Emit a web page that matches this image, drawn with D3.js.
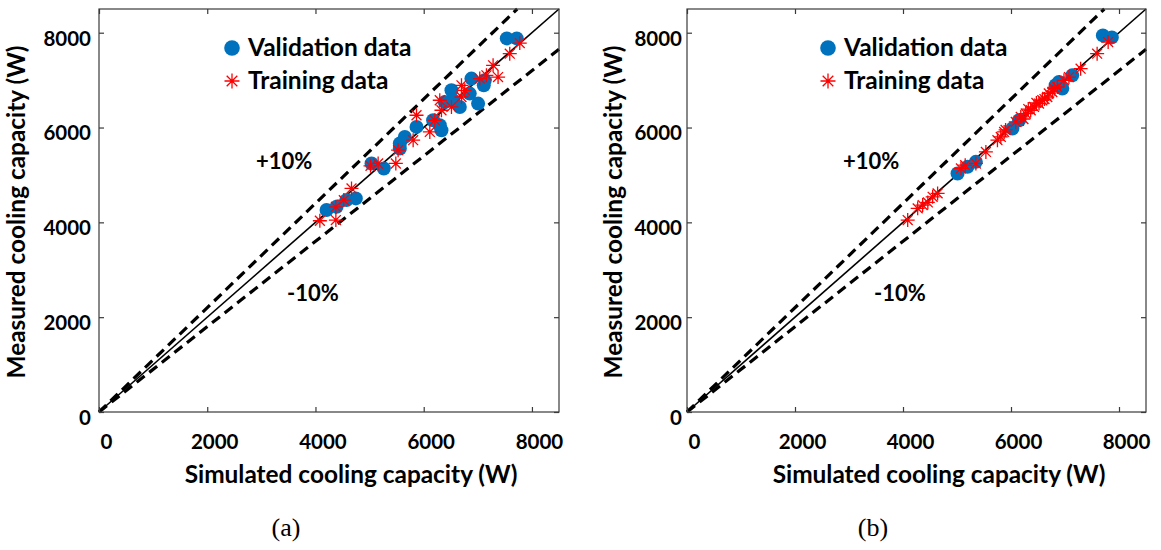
<!DOCTYPE html>
<html>
<head>
<meta charset="utf-8">
<script src="https://cdn.jsdelivr.net/npm/d3@7"></script>
<style>
  html, body { margin: 0; padding: 0; background: #fff; }
  svg { display: block; }
  text { font-family: Lato, "Open Sans", sans-serif; font-weight: bold; fill: #000; }
  .caption { font-family: "Liberation Serif", "DejaVu Serif", serif; font-weight: normal; }
</style>
</head>
<body>
<script>
// Axis setup shared by both panels
const axisDomain = [0, 8500];
const tickValues = [0, 2000, 4000, 6000, 8000];
const xTitle = "Simulated cooling capacity (W)";
const yTitle = "Measured cooling capacity (W)";
const seriesNames = ["Validation data", "Training data"];
const bandLabels = ["+10%", "-10%"];
const bandFactors = [1.1, 0.9];
const captions = ["(a)", "(b)"];

// Panel (a): validation points
const valA_sim  = [4205, 4390, 4574, 4746, 5036, 5263, 5559, 5559, 5651, 5867, 6174, 6297, 6328, 6390, 6513, 6544, 6667, 6851, 6882, 7005, 7128, 7110, 7535, 7719];
const valA_meas = [4259, 4328, 4469, 4505, 5242, 5137, 5558, 5663, 5802, 6013, 6154, 6048, 5943, 6539, 6785, 6575, 6434, 6716, 7032, 6505, 6996, 6890, 7880, 7880];
// Panel (a): training points
const trnA_sim  = [4081, 4377, 4377, 4524, 4666, 5017, 5158, 5485, 5527, 5805, 5867, 6113, 6205, 6297, 6328, 6513, 6698, 6698, 6759, 7036, 7159, 7282, 7374, 7590, 7775];
const trnA_meas = [4034, 4048, 4328, 4469, 4716, 5192, 5242, 5242, 5522, 5733, 6259, 5908, 6154, 6575, 6364, 6434, 6891, 6644, 6785, 7032, 7101, 7312, 7065, 7558, 7781];

// Panel (b): validation points
const valB_sim  = [5010, 5195, 5349, 6026, 6150, 6827, 6950, 6888, 7134, 7701, 7867];
const valB_meas = [5031, 5171, 5276, 5979, 6154, 6891, 6821, 6960, 7101, 7943, 7901];
// Panel (b): training points
const trnB_sim  = [4087, 4272, 4364, 4460, 4549, 4641, 5073, 5152, 5350, 5535, 5749, 5811, 5873, 5900, 6089, 6181, 6230, 6273, 6320, 6365, 6427, 6470, 6519, 6580, 6620, 6672, 6700, 6765, 6800, 6857, 6981, 7073, 7289, 7595, 7799];
const trnB_meas = [4048, 4295, 4364, 4420, 4539, 4611, 5137, 5206, 5242, 5486, 5733, 5802, 5907, 5950, 6118, 6223, 6180, 6295, 6390, 6364, 6434, 6520, 6505, 6575, 6600, 6644, 6720, 6750, 6820, 6855, 6996, 7065, 7242, 7558, 7802];

const W = 1161, H = 550;
const svg = d3.select("body").append("svg").attr("width", W).attr("height", H);

const BLUE = "#0072BD", RED = "#FF0000", AXIS = "#3a3a3a";
const fmt = d3.format("d");

function starPath(r) {
  // eight-armed asterisk centred on the origin
  let d = "";
  for (let k = 0; k < 4; k++) {
    const a = k * Math.PI / 4;
    const dx = r * Math.cos(a), dy = r * Math.sin(a);
    d += `M${-dx},${-dy}L${dx},${dy}`;
  }
  return d;
}

function drawPanel(p) {
  const g = svg.append("g");
  const x = d3.scaleLinear().domain(axisDomain).range([p.left, p.right]);
  const y = d3.scaleLinear().domain(axisDomain).range([p.bottom, p.top]);

  // reference lines: 1:1 and ±10 %
  const lines = g.append("g");
  lines.append("line")
    .attr("x1", x(0)).attr("y1", y(0)).attr("x2", x(8500)).attr("y2", y(8500))
    .attr("stroke", "#000").attr("stroke-width", 1.6);
  bandFactors.forEach(f => {
    const xe = Math.min(8500, 8500 / f);
    lines.append("line")
      .attr("x1", x(0)).attr("y1", y(0)).attr("x2", x(xe)).attr("y2", y(xe * f))
      .attr("stroke", "#000").attr("stroke-width", 3.2)
      .attr("stroke-dasharray", "10,6");
  });

  // data markers
  g.append("g").selectAll("circle").data(d3.range(p.vs.length)).join("circle")
    .attr("cx", i => x(p.vs[i])).attr("cy", i => y(p.vm[i])).attr("r", 7)
    .attr("fill", BLUE);
  g.append("g").selectAll("path").data(d3.range(p.ts.length)).join("path")
    .attr("transform", i => `translate(${x(p.ts[i])},${y(p.tm[i])})`)
    .attr("d", starPath(7))
    .attr("stroke", RED).attr("stroke-width", 1.3).attr("fill", "none");

  // box
  g.append("rect")
    .attr("x", p.left).attr("y", p.top)
    .attr("width", p.right - p.left).attr("height", p.bottom - p.top)
    .attr("fill", "none").attr("stroke", AXIS).attr("stroke-width", 1.2);

  // axes with inward ticks, mirrored on top/right
  const ax = g.append("g").attr("transform", `translate(0,${p.bottom})`)
    .call(d3.axisBottom(x).tickValues(tickValues).tickFormat(fmt)
      .tickSizeInner(-5).tickSizeOuter(0).tickPadding(22));
  const axT = g.append("g").attr("transform", `translate(0,${p.top})`)
    .call(d3.axisTop(x).tickValues(tickValues).tickSizeInner(-5).tickSizeOuter(0).tickFormat(""));
  const ay = g.append("g").attr("transform", `translate(${p.left},0)`)
    .call(d3.axisLeft(y).tickValues(tickValues).tickFormat(fmt)
      .tickSizeInner(-5).tickSizeOuter(0).tickPadding(p.yPad));
  const ayR = g.append("g").attr("transform", `translate(${p.right},0)`)
    .call(d3.axisRight(y).tickValues(tickValues).tickSizeInner(-5).tickSizeOuter(0).tickFormat(""));
  [ax, axT, ay, ayR].forEach(a => {
    a.select(".domain").remove();
    a.selectAll("line").attr("stroke", AXIS).attr("stroke-width", 1.2);
  });
  [ax, ay].forEach(a => a.selectAll("text")
    .attr("font-size", 20.5).attr("fill", "#000")
    .style("font-family", "Lato, sans-serif").style("font-weight", "bold"));
  ax.selectAll("text").attr("dx", 7);
  ay.selectAll("text").attr("dy", "0.6em");

  // axis titles
  g.append("text").attr("x", p.left + 252).attr("y", 483)
    .attr("text-anchor", "middle").attr("font-size", 24.4).text(xTitle);
  g.append("text").attr("transform", `translate(${p.yTitleX},212) rotate(-90)`)
    .attr("text-anchor", "middle").attr("font-size", 24.4).text(yTitle);

  // band labels
  g.append("text").attr("x", p.bandX).attr("y", 169).attr("font-size", 22).text(bandLabels[0]);
  g.append("text").attr("x", p.bandX + 31).attr("y", 301).attr("font-size", 22).text(bandLabels[1]);

  // legend
  const lg = g.append("g").attr("transform", `translate(${p.legX},0)`);
  lg.append("circle").attr("cx", 0).attr("cy", 48).attr("r", 7.8).attr("fill", BLUE);
  lg.append("path").attr("transform", "translate(0,81)").attr("d", starPath(7.5))
    .attr("stroke", RED).attr("stroke-width", 1.3).attr("fill", "none");
  lg.append("text").attr("x", 16).attr("y", 56).attr("font-size", 24.5).text(seriesNames[0]);
  lg.append("text").attr("x", 16).attr("y", 88.5).attr("font-size", 24.5).text(seriesNames[1]);

  // caption
  g.append("text").attr("class", "caption").attr("x", p.capX).attr("y", 536)
    .attr("text-anchor", "middle").attr("font-size", 26).text(p.caption);
}

drawPanel({ left: 99, right: 559, top: 9, bottom: 412, yPad: 8, yTitleX: 25,
  vs: valA_sim, vm: valA_meas, ts: trnA_sim, tm: trnA_meas,
  bandX: 256, legX: 232, capX: 286, caption: captions[0] });
drawPanel({ left: 687, right: 1146, top: 9, bottom: 412, yPad: 5, yTitleX: 622,
  vs: valB_sim, vm: valB_meas, ts: trnB_sim, tm: trnB_meas,
  bandX: 843, legX: 828, capX: 873, caption: captions[1] });
</script>
</body>
</html>
